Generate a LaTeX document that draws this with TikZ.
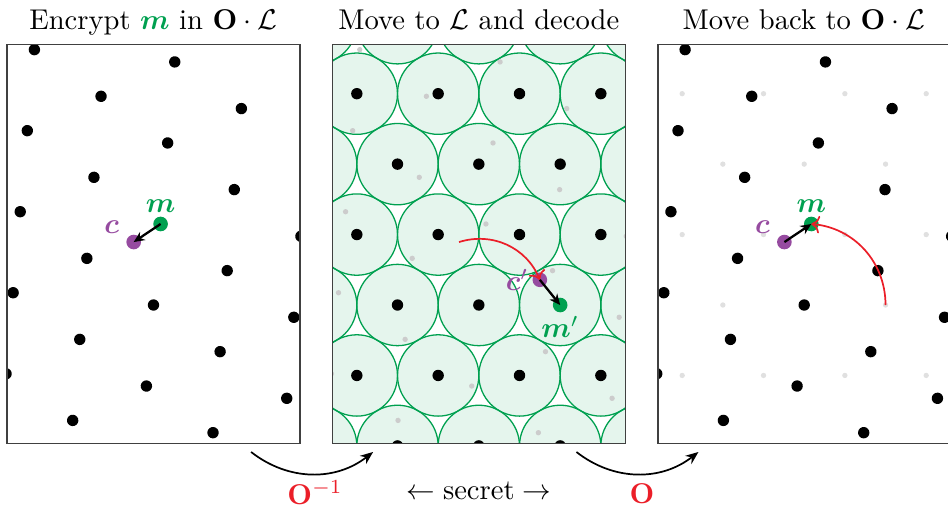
\documentclass[tikz,border=0pt]{standalone}
\usepackage{amsmath,amssymb}
\usepackage{tikz}
\usetikzlibrary{arrows.meta,positioning}
\usepackage{xcolor}
\definecolor{mgreen}{RGB}{0,160,80}
\definecolor{cpurple}{RGB}{150,75,160}
\definecolor{ored}{RGB}{235,30,40}
\newcommand{\OL}{\mathbf{O}\cdot\mathcal{L}}
%% hexagonal lattice dots, spacing 1
\newcommand{\latdots}[2]{%
  \foreach \i in {-7,...,7}
    \foreach \j in {-5,...,5}
      \fill[#2] ({\i+0.5*\j},{0.8660254*\j}) circle (#1);}

\begin{document}
\begin{tikzpicture}[
    panel/.style={draw=black!75,line width=0.5pt},
    cellfill/.style={fill=mgreen!10},
    celledge/.style={draw=mgreen,line width=0.45pt},
    mdot/.style={circle,fill=mgreen,inner sep=0pt,minimum size=0.18cm},
    cdot/.style={circle,fill=cpurple,inner sep=0pt,minimum size=0.18cm},
    mlbl/.style={text=mgreen,inner sep=1pt},
    clbl/.style={text=cpurple,inner sep=1pt},
    paneltitle/.style={anchor=base},
    errarrow/.style={-{Stealth[length=3.8pt,width=3.4pt]},thick},
    rotarrow/.style={->,ored,semithick},
    maparrow/.style={-{Stealth[length=4.5pt,width=3.6pt]},semithick},
    opname/.style={text=ored,anchor=base},
  ]
  \useasboundingbox (-1.887,-2.484) rectangle (9.768,3.750);

  %% ---- left panel: encrypt in O.L ----
  \begin{scope}[xshift=0cm]
    \begin{scope}
      \clip (-1.8,-1.7) rectangle (1.8,3.2);
      \begin{scope}[rotate=85]
        \latdots{0.07}{black}
      \end{scope}
    \end{scope}
    \draw[panel] (-1.8,-1.7) rectangle (1.8,3.2);
    \node[mdot] (m1) at (85:1) {};
    \node[cdot] (c1) at (107.46:0.8115) {};
    \node[mlbl, above=0pt of m1] (m1lbl) {$\boldsymbol{m}$};
    \node[clbl, above left=0pt and 0.07cm of c1] (c1lbl) {$\boldsymbol{c}$};
    \draw[errarrow] (m1.center) -- (c1.center);
    \node[paneltitle] (t1) at (0,3.393) {Encrypt $\color{mgreen}\boldsymbol{m}$ in $\OL$};
  \end{scope}

  %% ---- middle panel: decode in L ----
  \begin{scope}[xshift=4cm]
    \begin{scope}
      \clip (-1.8,-1.7) rectangle (1.8,3.2);
      %% decoding cells
      \foreach \i in {-7,...,7}
        \foreach \j in {-5,...,5}
          \fill[cellfill] ({\i+0.5*\j},{0.8660254*\j}) circle (0.5);
      \foreach \i in {-7,...,7}
        \foreach \j in {-5,...,5}
          \draw[celledge] ({\i+0.5*\j},{0.8660254*\j}) circle (0.5);
      \begin{scope}[rotate=85]
        \latdots{0.033}{black!20}
      \end{scope}
      \latdots{0.07}{black}
    \end{scope}
    \draw[panel] (-1.8,-1.7) rectangle (1.8,3.2);
    \coordinate (cstart) at (107.46:0.8115);
    \node[mdot] (m2) at (0:1) {};
    \node[cdot] (c2) at (22.46:0.8115) {};
    \node[clbl, left=0pt of c2] (c2lbl) {$\boldsymbol{c}'$};
    \node[mlbl, below=0pt of m2] (m2lbl) {$\boldsymbol{m}'$};
    \draw[rotarrow] (cstart) to[bend left=42.5] (c2.center);
    \draw[errarrow] (c2.center) -- (m2.center);
    \node[paneltitle] (t2) at (0,3.393) {Move to $\mathcal{L}$ and decode};
  \end{scope}

  %% ---- right panel: back to O.L ----
  \begin{scope}[xshift=8cm]
    \begin{scope}
      \clip (-1.8,-1.7) rectangle (1.8,3.2);
      \latdots{0.033}{black!12}
      \begin{scope}[rotate=85]
        \latdots{0.07}{black}
      \end{scope}
    \end{scope}
    \draw[panel] (-1.8,-1.7) rectangle (1.8,3.2);
    \coordinate (mpstart) at (0:1);
    \node[mdot] (m3) at (85:1) {};
    \node[cdot] (c3) at (107.46:0.8115) {};
    \node[mlbl, above=0pt of m3] (m3lbl) {$\boldsymbol{m}$};
    \node[clbl, above left=0pt and 0.07cm of c3] (c3lbl) {$\boldsymbol{c}$};
    \draw[rotarrow] (mpstart) to[bend right=42.5] (m3.center);
    \draw[errarrow] (c3.center) -- (m3.center);
    \node[paneltitle] (t3) at (0,3.393) {Move back to $\OL$};
  \end{scope}

  %% ---- maps between panels ----
  \coordinate (invs) at (1.2,-1.807);
  \coordinate (inve) at (2.7,-1.807);
  \coordinate (fwds) at (5.2,-1.807);
  \coordinate (fwde) at (6.7,-1.807);
  \draw[maparrow] (invs) to[bend right=38] (inve);
  \draw[maparrow] (fwds) to[bend right=38] (fwde);
  \node[opname] (oinv) at (1.986,-2.447) {$\mathbf{O}^{-1}$};
  \node[anchor=base] (secret) at (4.0,-2.385) {$\leftarrow$\;secret\;$\rightarrow$};
  \node[opname] (ofwd) at (6.006,-2.44) {$\mathbf{O}$};
\end{tikzpicture}
\end{document}
